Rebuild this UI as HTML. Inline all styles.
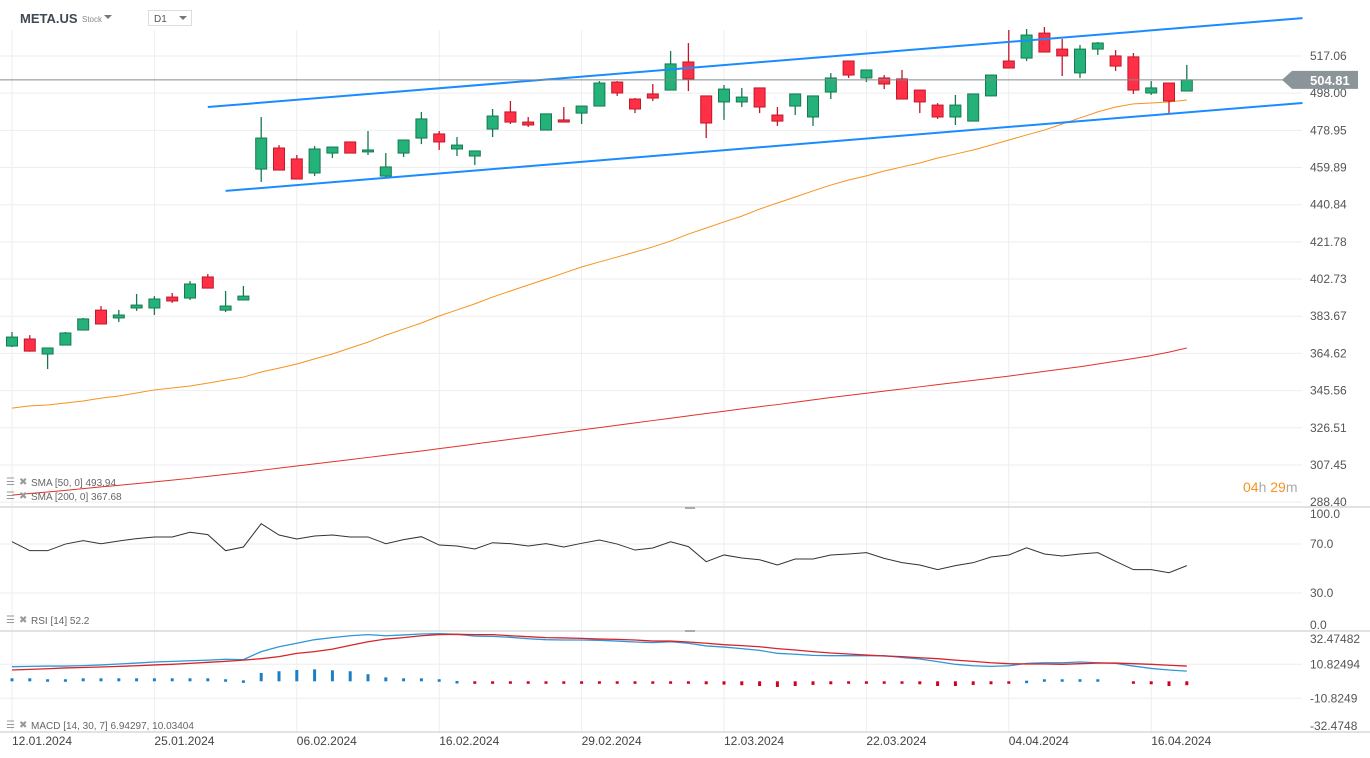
<!DOCTYPE html>
<html><head><meta charset="utf-8"><style>
html,body{margin:0;padding:0;background:#fff;width:1370px;height:758px;overflow:hidden;font-family:"Liberation Sans",sans-serif}
svg{position:absolute;left:0;top:0}
</style></head><body>
<svg id="chart" width="1370" height="758" xmlns="http://www.w3.org/2000/svg" font-family="Liberation Sans, sans-serif">
<g id="grid"></g>
<g id="main"></g>
<g id="rsi"></g>
<g id="macd"></g>
<g id="axes"></g>
<g>
 <text x="20" y="23" font-size="13" font-weight="bold" fill="#3d4a55">META.US</text>
 <text x="82" y="22" font-size="8" fill="#888">Stock</text>
 <path d="M104 15 L112 15 L108 19 Z" fill="#777"/>
 <rect x="148.5" y="10.5" width="43" height="15" fill="#fff" stroke="#ddd"/>
 <text x="154" y="22" font-size="10" fill="#555">D1</text>
 <path d="M179 16 L187 16 L183 20 Z" fill="#777"/>
</g>
<g font-size="10" fill="#666">
 <g><text x="6" y="485" font-size="10" fill="#999">☰</text><text x="19" y="485" font-size="10" fill="#999">✖</text><text x="31" y="486">SMA [50, 0] 493.94</text></g>
 <g><text x="6" y="499" font-size="10" fill="#999">☰</text><text x="19" y="499" font-size="10" fill="#999">✖</text><text x="31" y="500">SMA [200, 0] 367.68</text></g>
 <g><text x="6" y="623" font-size="10" fill="#999">☰</text><text x="19" y="623" font-size="10" fill="#999">✖</text><text x="31" y="624">RSI [14] 52.2</text></g>
 <g><text x="6" y="728" font-size="10" fill="#999">☰</text><text x="19" y="728" font-size="10" fill="#999">✖</text><text x="31" y="729">MACD [14, 30, 7] 6.94297, 10.03404</text></g>
</g>
<text x="1243" y="492" font-size="14"><tspan fill="#f7931e">04</tspan><tspan fill="#aaa">h </tspan><tspan fill="#f7931e">29</tspan><tspan fill="#aaa">m</tspan></text>
</svg>
<script>
const opens=[368.4,372.0,364.3,368.9,376.6,386.8,382.8,387.9,387.9,393.5,393.0,403.8,386.8,392.0,459.1,469.9,464.3,457.1,467.3,473.0,467.9,455.5,467.3,475.0,477.1,469.4,465.8,479.6,488.4,483.2,479.1,484.3,487.8,491.4,503.7,495.0,497.6,499.6,514.0,496.6,493.5,493.5,500.7,486.8,491.4,485.8,498.6,514.5,505.8,505.8,505.3,499.6,491.9,485.8,483.7,496.6,514.5,516.0,528.8,520.6,508.4,520.6,517.1,516.6,498.1,503.2,499.1];
const closes=[373.0,365.8,367.4,375.1,382.3,379.7,384.3,389.4,392.5,391.5,400.2,398.1,388.9,394.0,475.0,458.6,454.0,469.4,470.4,467.3,468.9,460.2,474.0,484.8,473.0,471.4,468.4,486.3,483.2,481.7,487.4,483.2,491.4,503.2,498.1,489.9,495.5,513.0,505.3,482.7,500.1,496.0,490.9,483.7,497.6,496.6,505.8,507.3,509.9,502.7,495.0,493.5,485.8,491.9,497.6,507.3,510.9,527.8,519.1,517.1,520.6,523.7,511.9,499.6,500.7,494.0,504.81];
const highs=[375.6,374.0,367.6,375.6,382.8,388.9,386.9,395.1,394.0,395.6,401.7,405.3,396.6,399.2,485.8,471.4,466.3,470.9,470.6,473.2,478.6,467.3,474.2,488.4,478.6,475.5,468.6,489.9,494.0,485.8,487.6,490.9,491.6,504.2,504.2,495.5,502.7,519.6,523.7,496.8,502.2,500.7,500.9,490.9,497.8,496.8,508.3,514.7,510.1,507.3,509.9,499.8,492.9,497.1,497.8,507.5,530.4,530.9,531.9,525.8,522.7,524.2,520.1,518.6,504.2,503.4,512.5];
const lows=[367.9,365.5,356.6,368.7,376.4,379.5,380.7,386.4,384.3,390.5,392.0,397.9,385.8,391.8,452.5,458.4,453.8,455.5,464.8,467.1,466.3,454.5,465.3,471.9,468.9,465.8,461.2,475.5,482.2,480.7,478.9,483.0,482.2,491.2,496.6,487.8,494.0,499.4,499.1,475.0,484.3,490.9,487.8,481.2,486.8,481.2,495.0,505.8,503.7,500.1,494.8,487.8,484.8,481.7,483.5,496.4,510.7,514.5,518.9,506.8,505.8,517.6,509.4,497.6,497.1,487.3,498.9];
const sma50=[336.6,337.7,338.2,339.2,340.2,341.7,342.8,344.3,345.9,346.9,347.9,349.4,351.0,352.5,355.1,357.1,359.2,361.8,364.3,367.4,370.4,374.0,377.1,380.2,383.8,386.9,390.0,393.5,396.6,399.7,402.7,405.8,408.9,411.5,414.0,416.6,419.2,422.2,425.8,428.9,432.0,435.0,438.6,441.7,444.8,447.9,450.9,453.5,455.6,458.1,460.2,462.2,464.8,466.8,468.9,471.4,474.0,476.6,479.1,482.2,485.3,488.4,490.9,492.5,493.0,493.5,494.5];
const sma200=[292.0,292.8,293.6,294.4,295.3,296.2,297.0,297.9,298.8,299.7,300.6,301.6,302.6,303.6,304.7,305.8,306.9,308.0,309.1,310.2,311.3,312.4,313.5,314.6,315.8,317.0,318.2,319.4,320.6,321.8,323.0,324.2,325.4,326.6,327.8,329.0,330.2,331.4,332.6,333.8,335.0,336.2,337.3,338.4,339.6,340.8,342.0,343.1,344.2,345.3,346.4,347.5,348.6,349.7,350.8,351.9,353.0,354.2,355.4,356.6,357.8,359.2,360.6,362.0,363.5,365.3,367.4];
const rsiVals=[71.9,64.6,64.6,70.0,72.8,70.3,72.5,74.4,75.8,75.8,79.6,77.7,64.6,67.6,86.6,77.4,74.1,76.6,77.4,75.8,75.8,70.3,73.6,76.0,69.2,68.4,66.0,71.1,70.3,68.4,70.3,67.6,70.6,73.3,70.0,65.1,66.8,71.9,67.9,55.6,61.1,58.6,57.2,52.9,57.8,57.8,61.1,61.9,63.0,58.3,54.8,52.9,49.1,52.4,54.8,59.4,61.1,67.0,61.9,60.2,61.9,63.0,55.9,49.1,49.1,46.6,52.4];
const macdVals=[9.3,9.5,9.7,9.7,10.0,10.4,11.0,11.6,12.3,12.7,13.1,13.5,14.0,13.8,18.9,22.0,24.2,26.5,27.8,29.0,29.7,29.0,29.5,30.1,30.3,29.9,28.8,28.6,28.0,27.1,26.5,26.3,26.3,26.1,25.6,25.0,24.6,25.2,24.2,22.5,21.8,20.8,19.7,17.8,17.2,16.5,16.3,16.3,16.3,16.3,15.2,14.2,12.5,10.8,9.9,9.5,9.9,11.4,11.8,11.8,12.3,11.8,11.4,9.7,8.2,7.2,6.5];
const signalVals=[7.2,7.6,8.0,8.5,8.8,9.1,9.5,9.9,10.4,10.8,11.4,12.1,12.7,13.5,14.4,15.7,17.8,18.9,20.5,22.9,25.2,26.9,27.8,29.0,29.7,29.9,29.7,29.7,29.0,28.4,27.8,27.6,27.3,26.9,26.7,26.3,25.6,25.6,25.0,24.2,23.3,22.7,22.0,20.8,19.9,18.9,18.0,17.4,16.7,16.1,15.7,15.0,14.4,13.5,12.7,11.8,11.2,11.0,11.0,10.8,11.2,11.6,11.6,11.2,10.8,10.2,9.7];
const histVals=[1.9,1.9,1.3,1.3,1.9,1.9,1.9,1.9,1.9,1.9,1.9,1.9,1.3,0.6,5.3,6.4,7.2,7.6,7.0,6.4,4.5,2.5,1.9,1.9,1.3,0.2,-0.6,-0.6,-0.6,-1.3,-0.6,-1.3,-1.3,-0.6,-0.6,-1.1,-1.1,-0.4,-0.4,-1.9,-2.1,-2.5,-3.0,-3.6,-3.0,-2.3,-1.9,-1.1,-0.4,-0.4,-1.3,-1.9,-3.0,-3.0,-2.3,-1.9,-0.4,0.4,1.3,1.3,1.3,1.3,0,-1.1,-1.9,-3.0,-2.5];
const priceTicks=[517.06,498.00,478.95,459.89,440.84,421.78,402.73,383.67,364.62,345.56,326.51,307.45,288.40];
const rsiTicks=[100,70,30,0];
const rsiTickLabels=["100.0","70.0","30.0","0.0"];
const macdTicks=[32.47482,10.82494,-10.8249,-32.4748];
const dateIdx=[0,8,16,24,32,40,48,56,64];
const dateLabels=["12.01.2024","25.01.2024","06.02.2024","16.02.2024","29.02.2024","12.03.2024","22.03.2024","04.04.2024","16.04.2024"];
const trendUpper=[[11.0,490.9],[72.5,536.5]];
const trendLower=[[12.0,447.9],[72.5,493.0]];
const lastPrice=504.81;

const NS="http://www.w3.org/2000/svg";
const xC=i=>12+i*17.8;
const yP=p=>56+(517.06-p)*1.951;
const yR=v=>629.8-v*1.225;
const yM=v=>681.3-v*1.571;
function mk(tag,attrs,parent){const e=document.createElementNS(NS,tag);for(const k in attrs)e.setAttribute(k,attrs[k]);parent.appendChild(e);return e;}
const grid=document.getElementById('grid'),main=document.getElementById('main'),rsi=document.getElementById('rsi'),macd=document.getElementById('macd'),axes=document.getElementById('axes');

dateIdx.forEach((di,k)=>{
 const l=mk('line',{x1:xC(di),x2:xC(di),y1:30,y2:732,stroke:'#eeeeee','stroke-width':1},grid);
 
 
 const t=mk('text',{x:xC(di),y:745,'font-size':12,fill:'#444'},axes);t.textContent=dateLabels[k];
 
 
});
priceTicks.forEach(p=>{
 const l=mk('line',{x1:0,x2:1302,y1:yP(p),y2:yP(p),stroke:'#eeeeee','stroke-width':1},grid);
 
 
 const t=mk('text',{x:1310,y:yP(p)+4,'font-size':12,fill:'#555'},axes);t.textContent=p.toFixed(2);
 
 
});
rsiTicks.forEach((v,k)=>{
 if(v==70||v==30){const l=mk('line',{x1:0,x2:1302,y1:yR(v),y2:yR(v),stroke:'#eeeeee'},grid);
 
 }
 const t=mk('text',{x:1310,y:Math.min(Math.max(yR(v)+4,518),629),'font-size':12,fill:'#555'},axes);t.textContent=rsiTickLabels[k];
 
 
});
macdTicks.forEach((v,k)=>{
 if(k==1||k==2){const l=mk('line',{x1:0,x2:1302,y1:yM(v),y2:yM(v),stroke:'#eeeeee'},grid);
 
 }
 const t=mk('text',{x:1310,y:Math.min(Math.max(yM(v)+4,643),730),'font-size':12,fill:'#555'},axes);t.textContent=String(v);
 
 
});
[507,631,732].forEach(y=>{const l=mk('line',{x1:0,x2:1370,y1:y,y2:y,stroke:'#d8d8d8','stroke-width':1.5},axes);
 
 });
[508,631].forEach(y=>{const r=mk('rect',{x:685,y:y-1,width:10,height:2,fill:'#aaa'},axes);
 
 });

function polyline(arr,yf,color,parent,w){return mk('polyline',{points:arr.map((v,i)=>xC(i)+','+yf(v)).join(' '),fill:'none',stroke:color,'stroke-width':w||1},parent);}
const s200=polyline(sma200,yP,'#e2312b',main);


const s50=polyline(sma50,yP,'#f7931e',main);



opens.forEach((o,i)=>{
 const c=closes[i],up=c>=o,x=xC(i);
 const g=mk('g',{},main);
 
 
 const stroke=up?'#157a4f':'#c0182b',fill=up?'#25b27a':'#ff3045';
 mk('line',{x1:x,x2:x,y1:yP(highs[i]),y2:yP(lows[i]),stroke:stroke,'stroke-width':1.3},g);
 const top=yP(Math.max(o,c)),bot=yP(Math.min(o,c));
 mk('rect',{x:x-5.5,y:top,width:11,height:Math.max(bot-top,1.5),fill:fill,stroke:stroke,'stroke-width':1},g);
});

[[trendUpper,'trendline-upper'],[trendLower,'trendline-lower']].forEach(([t,n])=>{
 const l=mk('line',{x1:xC(t[0][0]),y1:yP(t[0][1]),x2:xC(t[1][0]),y2:yP(t[1][1]),stroke:'#1a8cff','stroke-width':2},main);
 
 
});
const lp=mk('line',{x1:0,x2:1302,y1:yP(lastPrice),y2:yP(lastPrice),stroke:'#7f8c8d','stroke-width':1},main);


const ly=yP(lastPrice);
const tag=mk('path',{d:`M1282 ${ly} L1292 ${ly-9} L1358 ${ly-9} L1358 ${ly+9} L1292 ${ly+9} Z`,fill:'#8a9499'},axes);


const tt=mk('text',{x:1310,y:ly+5,'font-size':13,'font-weight':'bold',fill:'#fff'},axes);tt.textContent=lastPrice.toFixed(2);



const rl=polyline(rsiVals,yR,'#333',rsi);



histVals.forEach((v,i)=>{
 if(v===0)return;
 const y0=yM(0),y1=yM(v);
 const r=mk('rect',{x:xC(i)-1.5,y:Math.min(y0,y1),width:3,height:Math.max(Math.abs(y1-y0),2.5),fill:v>0?'#1a7fc4':'#d0021b'},macd);
 
 
});
const ml=polyline(macdVals,yM,'#2f96d8',macd,1.3);


const sl=polyline(signalVals,yM,'#d9232a',macd,1.3);


</script>
</body></html>
